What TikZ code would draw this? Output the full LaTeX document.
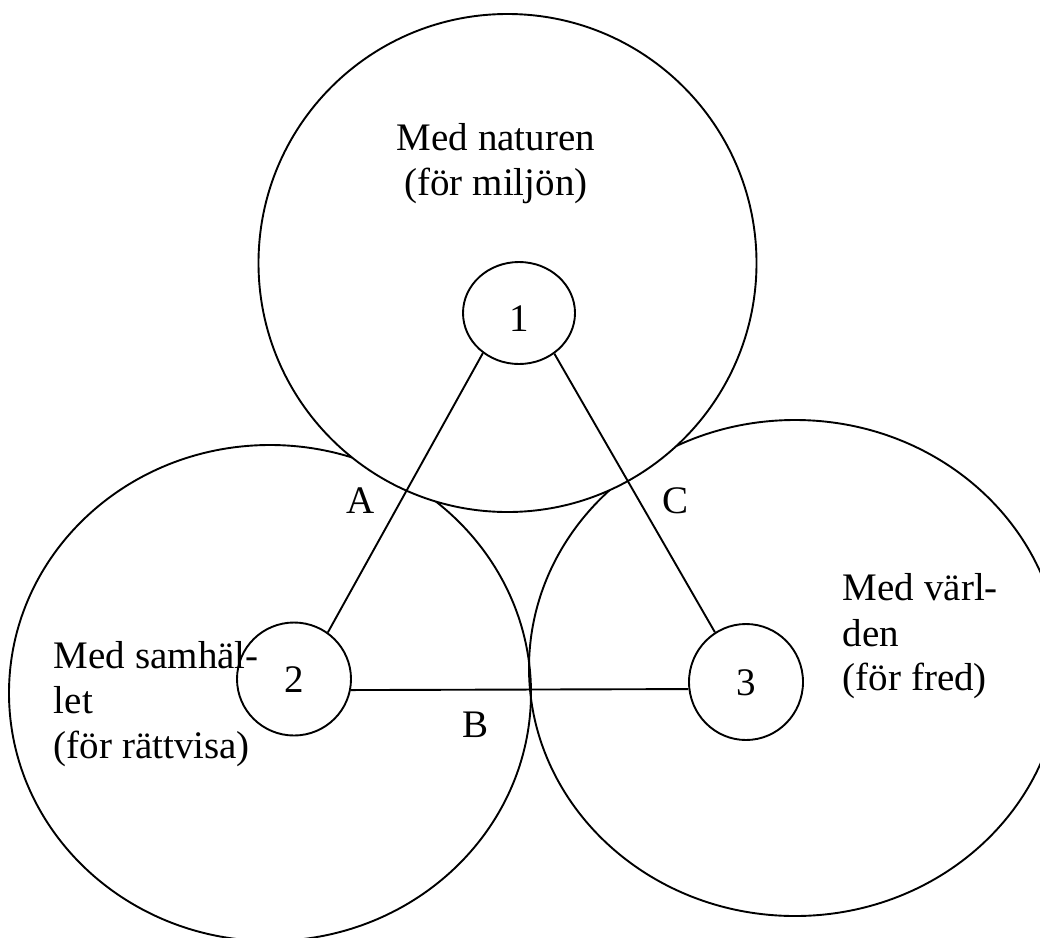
\documentclass[tikz,border=0pt]{standalone}
\usepackage{fontspec}
\setmainfont{Liberation Serif}
\usetikzlibrary{shapes.geometric}
\begin{document}
\begin{tikzpicture}[x=1pt,y=-1pt,line width=1.9pt,
  txt/.style={inner sep=0pt,font=\fontsize{39}{45}\selectfont},
  big/.style={draw,ellipse,inner sep=0pt},
  small/.style={draw,ellipse,inner sep=0pt,font=\fontsize{39}{45}\selectfont,text depth=0pt}]
\useasboundingbox (0,0) rectangle (1040,937);
% big circles
\node[big,minimum width=522pt,minimum height=496pt] (L) at (270,693) {};
\node[big,minimum width=532pt,minimum height=496pt] (R) at (795,668) {};
\node[big,fill=white,minimum width=498pt,minimum height=498pt] (T) at (507.5,263) {};
% small circles
\node[small,minimum width=112pt,minimum height=102pt,text height=36pt] (n1) at (519,313) {1};
\node[small,minimum width=114pt,minimum height=113pt,text height=26pt] (n2) at (294,679) {2};
\node[small,minimum width=114pt,minimum height=116pt,text height=26pt] (n3) at (746,682) {3};
% connectors
\draw (n1.228.8) -- (n2.54.3);
\draw (n1.311.2) -- (n3.122);
\draw (n2.-11) -- (n3.187);
% labels
\node[txt,anchor=base] (nat1) at (496,150) {Med naturen};
\node[txt,anchor=base] (nat2) at (496,195) {(för miljön)};
\node[txt,anchor=base west] (sam1) at (53,668) {Med samhäl-};
\node[txt,anchor=base west] (sam2) at (53,713) {let};
\node[txt,anchor=base west] (sam3) at (53,758) {(för rättvisa)};
\node[txt,anchor=base west] (var1) at (842,600) {Med värl-};
\node[txt,anchor=base west] (var2) at (842,646) {den};
\node[txt,anchor=base west] (var3) at (842,690) {(för fred)};
\node[txt,anchor=base] (lA) at (361,513) {A};
\node[txt,anchor=base] (lC) at (675,513) {C};
\node[txt,anchor=base] (lB) at (475,737) {B};
\end{tikzpicture}
\end{document}
